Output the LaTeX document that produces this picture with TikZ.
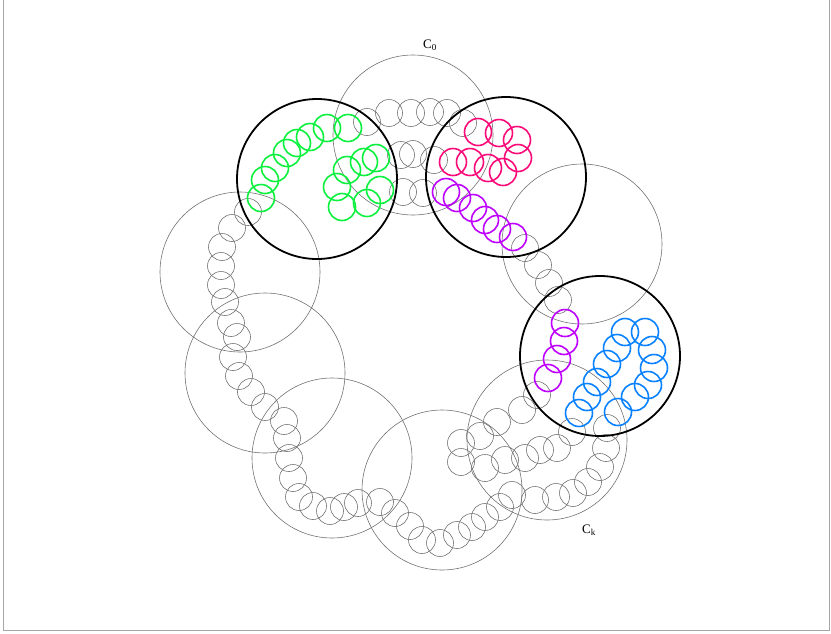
\documentclass[tikz,border=0pt]{standalone}
\usepackage{fontspec}
\setmainfont{Liberation Serif}
\definecolor{cgreen}{RGB}{10,240,60}
\definecolor{cpink}{RGB}{250,10,120}
\definecolor{cpurple}{RGB}{190,0,255}
\definecolor{cblue}{RGB}{10,130,255}
\tikzset{
  bigcirc/.style={draw=black!55, line width=0.6pt},
  smallcirc/.style={draw=black!55, line width=0.6pt},
  heavy/.style={draw=black, line width=1.8pt},
  colcirc/.style={line width=1.6pt},
  lab/.style={font=\fontsize{13}{15}\selectfont, inner sep=0pt}
}
\begin{document}
\begin{tikzpicture}[x=1pt,y=-1pt]
\useasboundingbox (0,0) rectangle (831,633);
\draw[black!35, line width=0.7pt] (3,0) -- (3,630) -- (829.5,630) -- (829.5,0);
% large gray circles
\foreach \p in {(413,135),(582,244),(240,272),(265,373),(332,458),(442,490),(547,440)}
  \draw[bigcirc] \p circle (80);
% small gray circles
\foreach \p in {(367,122),(389,113),(411,113),(430,112),(447,113),(463,123),
  (401,155),(413,154),(434,160),(403,192),(423,193),
  (525,248),(538,265),(549,283),(558,300),
  (248,212),(232,228),(222,247),(221,266),(221,285),(225,302),(231,323),(237,337),(233,357),(239,376),(251,392),(265,407),(284,421),(287,438),(289,458),(293,478),(299,497),(313,506),(330,511),(344,507),(358,503),(380,502),(395,513),(410,526),(422,540),(440,543),(457,535),(472,527),(485,517),(500,507),(512,495),(535,500),(556,497),(573,493),(588,482),(600,467),(606,448),(607,428),
  (537,395),(522,410),(497,422),(480,436),(461,443),(461,462),(485,468),(505,460),(525,458),(540,450),(557,448),(572,432)}
  \draw[smallcirc] \p circle (13.5);
% green
\foreach \p in {(261,198),(265,180),(275,168),(287,153),(297,143),(310,137),(327,128),(348,128),
  (376,158),(364,162),(347,170),(337,187),(342,207),(367,203),(380,190)}
  \draw[colcirc,cgreen] \p circle (13.5);
% pink
\foreach \p in {(478,132),(499,133),(517,140),(518,158),(503,172),(488,168),(470,162),(453,162)}
  \draw[colcirc,cpink] \p circle (13.5);
% purple
\foreach \p in {(446,192),(457,198),(473,208),(485,220),(497,229),(513,237),
  (565,323),(564,341),(557,359),(548,378)}
  \draw[colcirc,cpurple] \p circle (13.5);
% blue
\foreach \p in {(625,332),(645,332),(652,350),(654,368),(648,385),(635,397),(618,412),
  (579,413),(587,397),(597,382),(607,364),(617,348)}
  \draw[colcirc,cblue] \p circle (13.5);
% heavy black circles
\foreach \p in {(317,179),(506,177),(600,356)}
  \draw[heavy] \p circle (80);
\node[lab] (c0) at (430,45) {C\textsubscript{0}};
\node[lab] (ck) at (589,530) {C\textsubscript{k}};
\end{tikzpicture}
\end{document}
